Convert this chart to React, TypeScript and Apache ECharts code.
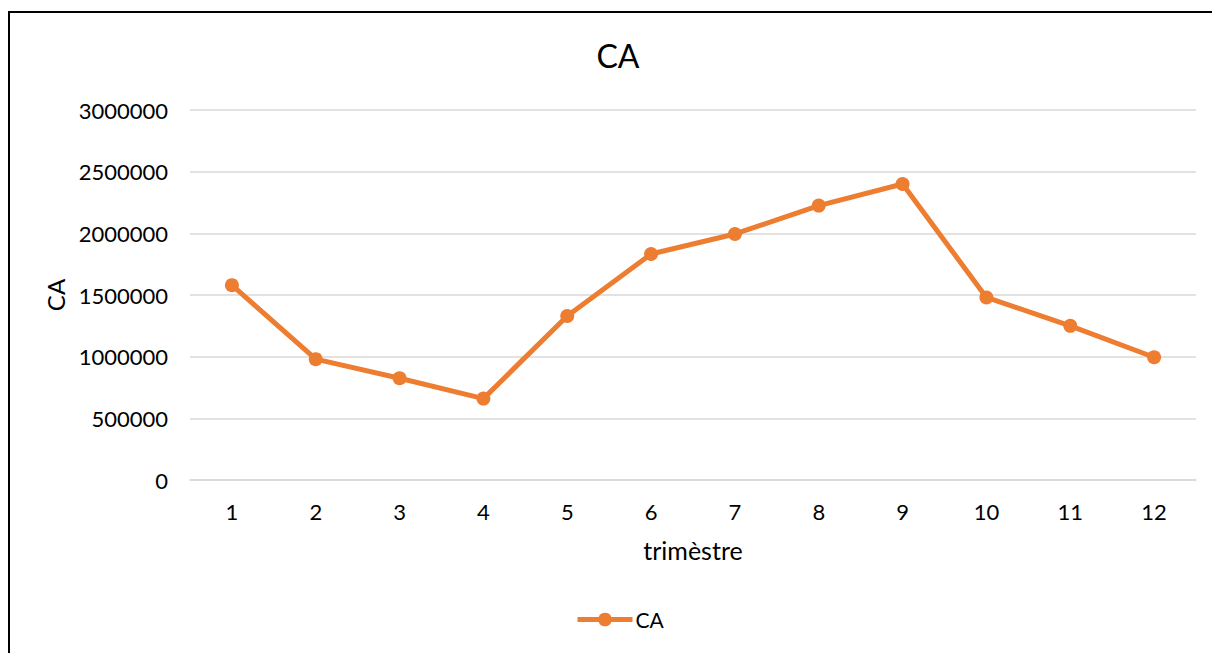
import React, { useEffect, useRef } from "react";
import * as echarts from "echarts";

const categories = ["1", "2", "3", "4", "5", "6", "7", "8", "9", "10", "11", "12"];
const caValues = [1580000, 980000, 825000, 660000, 1330000, 1832000, 1995000, 2225000, 2400000, 1480000, 1250000, 995000];
const seriesName = "CA";
const titleText = "CA";
const xAxisName = "trimèstre";
const yAxisName = "CA";

const FONT = "Lato, 'Open Sans', sans-serif";

export default function App() {
  const ref = useRef<HTMLDivElement>(null);
  useEffect(() => {
    if (!ref.current) return;
    const chart = echarts.init(ref.current, undefined, { renderer: "svg" });
    chart.setOption({
      animation: false,
      backgroundColor: "transparent",
      textStyle: { fontFamily: FONT },
      title: {
        text: titleText,
        left: 613,
        textAlign: "center",
        top: 34,
        textStyle: { fontFamily: FONT, fontSize: 32, fontWeight: "normal", color: "#000" },
      },
      legend: {
        data: [seriesName],
        left: 570,
        top: 604,
        padding: 5,
        itemWidth: 55,
        itemHeight: 17,
        itemGap: 4,
        lineStyle: { width: 5 },
        textStyle: { fontFamily: FONT, fontSize: 21, color: "#000", padding: [0, 0, 0, -2] },
      },
      grid: { left: 190, right: 16, top: 110, bottom: 173, containLabel: false },
      xAxis: {
        type: "category",
        data: categories,
        boundaryGap: true,
        name: xAxisName,
        nameLocation: "middle",
        nameGap: 57,
        nameTextStyle: { fontFamily: FONT, fontSize: 25, color: "#000" },
        axisLine: { show: true, lineStyle: { color: "#D9D9D9", width: 1.5 } },
        axisTick: { show: false },
        axisLabel: { margin: 20, fontFamily: FONT, fontSize: 22, color: "#000" },
      },
      yAxis: {
        type: "value",
        min: 0,
        max: 3000000,
        interval: 500000,
        name: yAxisName,
        nameLocation: "middle",
        nameRotate: 90,
        nameGap: 112,
        nameTextStyle: { fontFamily: FONT, fontSize: 24, color: "#000" },
        axisLine: { show: false },
        axisTick: { show: false },
        axisLabel: {
          margin: 22,
          fontFamily: FONT,
          fontSize: 22,
          color: "#000",
          formatter: (v: number) => String(v),
        },
        splitLine: { show: true, lineStyle: { color: "#D9D9D9", width: 1.5 } },
      },
      series: [
        {
          name: seriesName,
          type: "line",
          data: caValues,
          symbol: "circle",
          symbolSize: 14,
          itemStyle: { color: "#ED7D31" },
          lineStyle: { color: "#ED7D31", width: 5 },
        },
      ],
    });
    return () => chart.dispose();
  }, []);
  return (
    <div style={{ position: "fixed", left: 0, top: 0, width: 1212, height: 653, overflow: "hidden", background: "#fff" }}>
      <div
        style={{
          position: "absolute",
          left: 8,
          top: 11,
          width: 1300,
          height: 800,
          border: "2px solid #000",
          boxSizing: "border-box",
        }}
      />
      <div ref={ref} style={{ position: "absolute", left: 0, top: 0, width: 1212, height: 653 }} />
    </div>
  );
}
